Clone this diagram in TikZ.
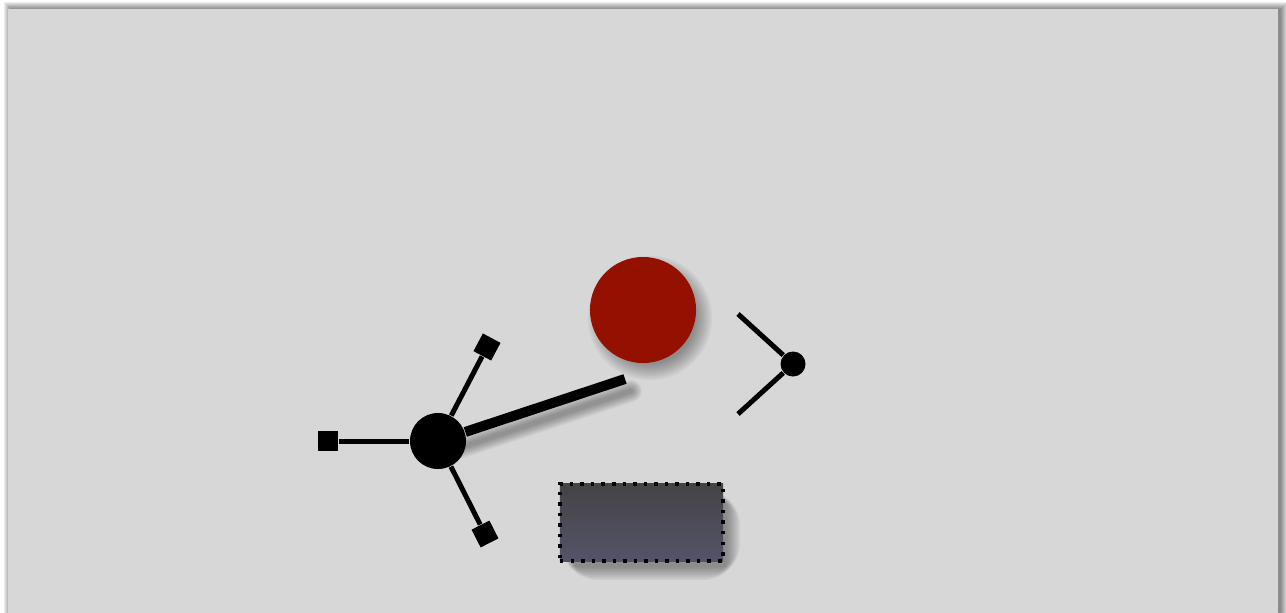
\documentclass[tikz,border=0pt]{standalone}
\usepackage{tikz}
\usetikzlibrary{positioning}

\definecolor{pagegray}{RGB}{215,215,215}
\definecolor{ballred}{RGB}{148,17,0}
\definecolor{boxtop}{RGB}{68,68,70}
\definecolor{boxbot}{RGB}{85,83,104}

\pgfdeclarelayer{sheet}
\pgfdeclarelayer{shade}
\pgfsetlayers{sheet,shade,main}

\tikzset{
  hub/.style={circle,fill=black,inner sep=0pt,minimum size=0.56cm},
  tip/.style={rectangle,fill=black,inner sep=0pt,minimum size=0.2cm},
  spoke/.style={line width=0.05cm},
  softshade/.style={fill=black,opacity=0.045},
}

\begin{document}
\begin{tikzpicture}[x=0.01cm,y=-0.01cm]
  \useasboundingbox (0,0) rectangle (1286,612);

  % Hub with three spokes
  \node[hub] (hub) at (438,441) {};
  \node[tip] (tipw) at (328,441) {};
  \node[tip,rotate=-28] (tipn) at (487,347) {};
  \node[tip,rotate=27] (tips) at (485,534) {};
  \draw[spoke] (hub) -- (tipw);
  \draw[spoke] (hub) -- (tipn);
  \draw[spoke] (hub) -- (tips);

  % Arm
  \coordinate (armend) at (625,379);
  \draw[line width=0.1cm] (hub) -- (armend);

  % Ball
  \node[circle,fill=ballred,inner sep=0pt,minimum size=1.06cm] (ball) at (643,310) {};

  % Small joint
  \node[circle,fill=black,inner sep=0pt,minimum size=0.25cm] (joint) at (793,364) {};
  \coordinate (jup) at (738,314);
  \coordinate (jdown) at (738,414);
  \draw[spoke] (jup) -- (joint);
  \draw[spoke] (jdown) -- (joint);

  % Box
  \node[rectangle,draw=black,dotted,line width=0.035cm,top color=boxtop,bottom color=boxbot,
    minimum width=1.63cm,minimum height=0.77cm,inner sep=0pt] (box) at (641.5,522.5) {};

  % Sheet and soft shadows
  \begin{pgfonlayer}{sheet}
    \fill[white] (0,0) rectangle (1286,612);
    \foreach \k in {1,...,8}
      \fill[softshade,opacity=0.07] (8+4-\k,9+1-\k) rectangle (1278+2+\k,640);
    \fill[pagegray] (8,9) rectangle (1278,640);
  \end{pgfonlayer}
  \begin{pgfonlayer}{shade}
    \foreach \k in {1,...,9}
      \fill[softshade] ([shift={(7,8)}]ball.center) circle[radius=44+\k*2];
    \foreach \k in {1,...,9}
      \draw[black,opacity=0.04,line width={0.02cm+\k*0.022cm},line cap=round]
        ([shift={(6,12)}]hub.center) -- ([shift={(6,12)}]armend);
    \foreach \k in {1,...,9}
      \fill[softshade,rounded corners={\k*1.2}]
        ([shift={(8-\k*1.6+9,12-\k*1.6+9)}]box.north west)
        rectangle ([shift={(\k*1.6-9+10,\k*1.6-9+12)}]box.south east);
  \end{pgfonlayer}
\end{tikzpicture}
\end{document}
